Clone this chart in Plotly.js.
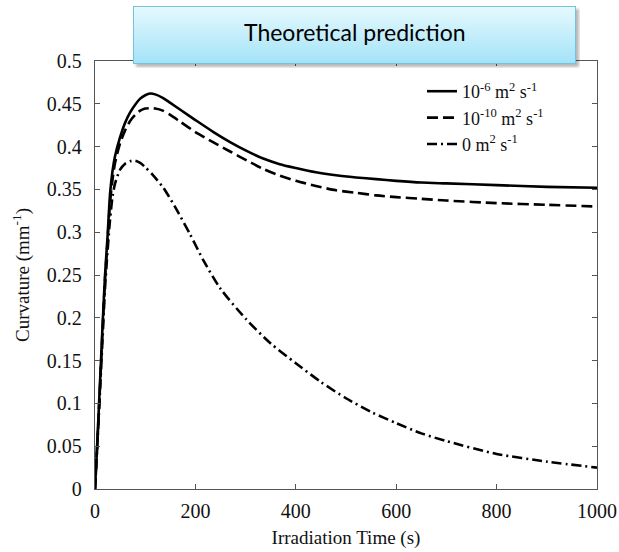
<!DOCTYPE html>
<html>
<head>
<meta charset="utf-8">
<script src="https://cdn.plot.ly/plotly-3.0.1.min.js"></script>
<style>html,body{margin:0;padding:0;background:#fff;}#chart{width:619px;height:552px;}</style>
</head>
<body>
<div id="chart"></div>
<script>
// Irradiation time (s) and curvature (mm^-1)
const tA = [0,5,10,15,20,25,30,35,40,50,60,70,80,90,100,110,120,135,150,170,200,236,270,302,335,368,400,440,480,520,560,600,650,700,800,900,1000];
const curv1e6 = [0,0.06,0.125,0.19,0.25,0.295,0.345,0.372,0.389,0.411,0.428,0.440,0.449,0.456,0.460,0.462,0.461,0.457,0.451,0.443,0.431,0.417,0.405,0.395,0.386,0.3795,0.375,0.370,0.3665,0.364,0.362,0.360,0.358,0.357,0.355,0.353,0.352];
const curv1e10 = [0,0.058,0.12,0.185,0.245,0.29,0.335,0.362,0.381,0.404,0.419,0.43,0.437,0.442,0.4445,0.4449,0.4445,0.442,0.437,0.429,0.417,0.405,0.394,0.384,0.374,0.366,0.360,0.354,0.349,0.346,0.343,0.341,0.339,0.337,0.334,0.332,0.330];
const tB = [0,5,10,15,20,25,30,35,40,50,60,70,80,90,100,115,136,160,189,216,250,300,350,400,450,500,550,600,650,700,800,900,1000];
const curv0 = [0,0.055,0.115,0.175,0.235,0.278,0.315,0.342,0.357,0.373,0.38,0.383,0.3836,0.381,0.376,0.367,0.352,0.329,0.298,0.267,0.234,0.199,0.17,0.147,0.125,0.106,0.09,0.077,0.065,0.056,0.041,0.032,0.025];
const seriesNames = ['10<sup>-6</sup> m<sup>2</sup> s<sup>-1</sup>','10<sup>-10</sup> m<sup>2</sup> s<sup>-1</sup>','0 m<sup>2</sup> s<sup>-1</sup>'];
const xTicks = [0,200,400,600,800,1000];
const titleText = 'Theoretical prediction';

const serif = '"Liberation Serif", "Times New Roman", Times, serif';
const lineShape = {shape:'spline', smoothing:0.7};
const traces = [
  {x:tA, y:curv1e6, name:seriesNames[0], mode:'lines', line:Object.assign({color:'#000', width:2.6, dash:'solid'}, lineShape)},
  {x:tA, y:curv1e10, name:seriesNames[1], mode:'lines', line:Object.assign({color:'#000', width:2.6, dash:'11px,5px'}, lineShape)},
  {x:tB, y:curv0, name:seriesNames[2], mode:'lines', line:Object.assign({color:'#000', width:2.6, dash:'10px,4px,2px,4px'}, lineShape)}
];

const svg = "<svg xmlns='http://www.w3.org/2000/svg' width='447' height='62' viewBox='0 0 447 62'>" +
  "<defs><linearGradient id='g' x1='0' y1='0' x2='0' y2='1'><stop offset='0' stop-color='#e6f9fe'/><stop offset='1' stop-color='#a3e3f7'/></linearGradient>" +
  "<filter id='f' x='-5%' y='-20%' width='110%' height='150%'><feGaussianBlur stdDeviation='1.5'/></filter></defs>" +
  "<rect x='3' y='3' width='443' height='58' fill='rgba(0,0,0,0.28)' filter='url(#f)'/>" +
  "<rect x='0.5' y='0.5' width='442' height='57' fill='url(#g)' stroke='#74c3de' stroke-width='1'/></svg>";
const src = 'data:image/svg+xml;charset=utf-8,' + encodeURIComponent(svg);

const L = 95, R = 22, T = 61, B = 63;
const pw = 619 - L - R, ph = 552 - T - B;
const px2x = p => (p - L) / pw;
const px2y = p => (552 - B - p) / ph;

function axisBase() {
  return {
    showline:true, linecolor:'#555', linewidth:1.2, mirror:'ticks',
    ticks:'inside', ticklen:5, tickcolor:'#555', tickwidth:1,
    showgrid:false, zeroline:false,
    tickfont:{family:serif, size:20, color:'#111'}
  };
}

const layout = {
  width:619, height:552,
  font:{family:serif, size:19, color:'#111'},
  margin:{l:L, r:R, t:T, b:B, pad:0},
  paper_bgcolor:'#fff', plot_bgcolor:'#fff',
  showlegend:true,
  legend:{x:px2x(422), y:px2y(73), xanchor:'left', yanchor:'top', bgcolor:'rgba(255,255,255,0)',
          font:{family:serif, size:18, color:'#111'}, tracegroupgap:0, itemwidth:30},
  xaxis:Object.assign(axisBase(), {range:[0,1000], tickvals:xTicks, ticklabelstandoff:4,
          title:{text:'Irradiation Time (s)', font:{family:serif, size:19, color:'#111'}, standoff:9}}),
  yaxis:Object.assign(axisBase(), {range:[0,0.5], dtick:0.05, tick0:0, ticklabelstandoff:8,
          title:{text:'Curvature (mm<sup>-1</sup>)', font:{family:serif, size:19, color:'#111'}, standoff:12}}),
  images:[{source:src, xref:'paper', yref:'paper', x:px2x(133), y:px2y(6), sizex:447/pw, sizey:62/ph,
           xanchor:'left', yanchor:'top', sizing:'stretch', layer:'above'}],
  annotations:[{text:titleText, xref:'paper', yref:'paper', x:px2x(354.5), y:px2y(32), xanchor:'center', yanchor:'middle',
           showarrow:false, font:{family:'Lato', size:23, color:'#000'}}]
};

Plotly.newPlot('chart', traces, layout, {displayModeBar:false, staticPlot:true});
</script>
</body>
</html>
